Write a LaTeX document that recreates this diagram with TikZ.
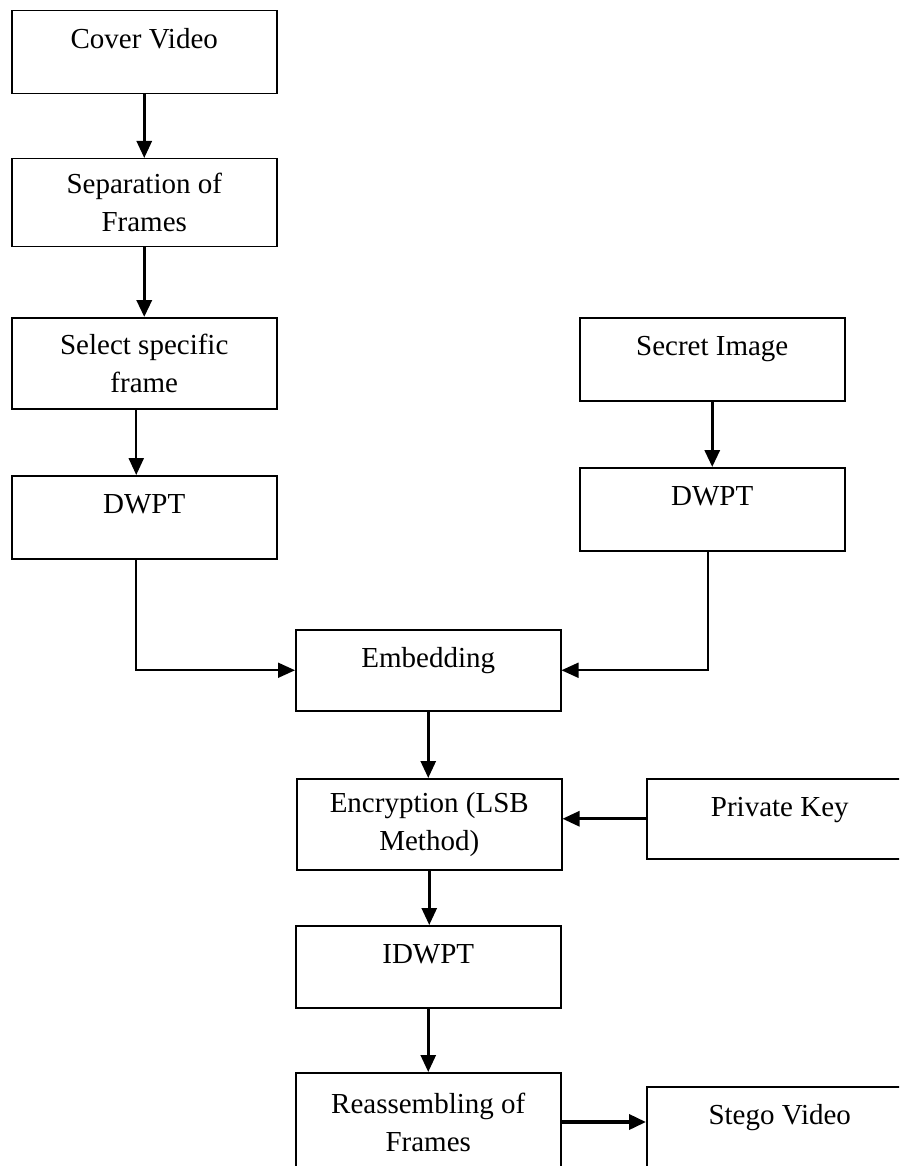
\documentclass[tikz,border=0pt]{standalone}
\usepackage{fontspec}
\setmainfont{Liberation Serif}
\usetikzlibrary{arrows.meta}

\begin{document}
\begin{tikzpicture}[x=1pt,y=-1pt,
    box/.style={draw, line width=1.5pt, anchor=north west, minimum width=265pt,
      inner sep=0pt, font=\fontsize{29}{38}\selectfont},
    onerow/.style={text height=38pt, text depth=#1},
    tworow/.style={align=center, minimum height=#1},
    flow/.style={line width=2.8pt, -{Triangle[length=17pt,width=15pt]}}]
  \clip (0,0) rectangle (899,1166);
  % left column
  \node[box, onerow=45pt] (cover) at (11,10) {Cover Video};
  \node[box, tworow=88pt] (sep) at (11,158) {Separation of\\Frames};
  \node[box, tworow=91pt] (sel) at (11,317) {Select specific\\frame};
  \node[box, onerow=45pt] (dwptL) at (11,475) {DWPT};
  % right column
  \node[box, onerow=45pt] (secret) at (579,317) {Secret Image};
  \node[box, onerow=45pt] (dwptR) at (579,467) {DWPT};
  % middle column
  \node[box, onerow=43pt] (embed) at (295,629) {Embedding};
  \node[box, tworow=91pt] (encr) at (296,778) {Encryption (LSB\\Method)};
  \node[box, onerow=42pt, minimum width=266pt] (key) at (646,778) {Private Key};
  \node[box, onerow=44pt] (idwpt) at (295,925) {IDWPT};
  \node[box, tworow=100pt] (reasm) at (295,1072) {Reassembling of\\Frames};
  \node[box, onerow=80pt, minimum width=266pt] (stego) at (646,1086) {Stego Video};
  \coordinate (stegoin) at ([yshift=-36pt]stego.north west);

  \draw[flow] (cover) -- (sep);
  \draw[flow, line width=3.4pt] (sep) -- (sel);
  \draw[flow, line width=2.4pt] ([xshift=-8pt]sel.south) -- ([xshift=-8pt]dwptL.north);
  \draw[flow, line width=3.2pt] (secret) -- (dwptR);
  \draw[flow, line width=1.8pt] ([xshift=-8pt]dwptL.south) |- (embed.west);
  \draw[flow, line width=1.8pt] ([xshift=-4pt]dwptR.south) |- (embed.east);
  \draw[flow] (embed.south) -- (embed.south |- encr.north);
  \draw[flow] (key.west) -- (key.west -| encr.east);
  \draw[flow] (encr.south) -- (encr.south |- idwpt.north);
  \draw[flow] (idwpt.south) -- (idwpt.south |- reasm.north);
  \draw[flow, line width=3.6pt] (stegoin -| reasm.east) -- (stegoin);
\end{tikzpicture}
\end{document}
